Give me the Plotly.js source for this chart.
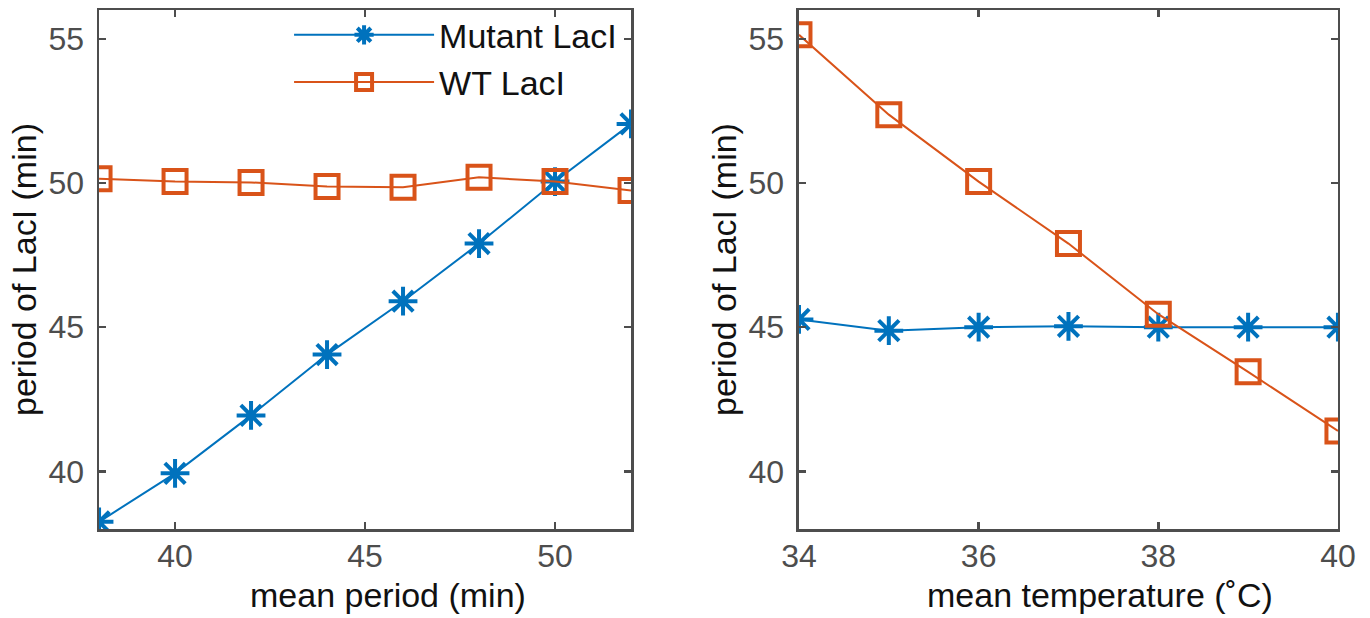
<!DOCTYPE html>
<html><head><meta charset="utf-8">
<script src="https://cdn.plot.ly/plotly-3.0.1.min.js"></script>
<style>html,body{margin:0;padding:0;background:#fff}</style>
</head><body>
<div id="chart" style="width:1370px;height:618px"></div>
<script>
const periodX = [38, 40, 42, 44, 46, 48, 50, 52];
const mutantByPeriod = [38.25, 39.93, 41.94, 44.05, 45.9, 47.9, 50.05, 52.05];
const wtByPeriod = [50.15, 50.05, 50.02, 49.88, 49.85, 50.2, 50.05, 49.74];
const tempX = [34, 35, 36, 37, 38, 39, 40];
const mutantByTemp = [45.27, 44.88, 45.0, 45.03, 45.0, 45.0, 45.0];
const wtByTemp = [55.14, 52.37, 50.05, 47.9, 45.45, 43.45, 41.4];
const seriesNames = ['Mutant LacI', 'WT LacI'];
const xTitles = ['mean period (min)', 'mean temperature (˚C)'];
const yTitle = 'period of LacI (min)';

const blue = '#0072BD', orange = '#D95319';
const mutStyle = {mode:'lines+markers', line:{color:blue, width:2},
  marker:{symbol:'asterisk-open', size:24, color:blue, line:{color:blue, width:4}}};
const wtStyle = {mode:'lines+markers', line:{color:orange, width:2},
  marker:{symbol:'square-open', size:23, color:orange, line:{color:orange, width:4}}};

const traces = [
  Object.assign({x: periodX, y: mutantByPeriod, name: seriesNames[0], xaxis:'x', yaxis:'y'}, mutStyle),
  Object.assign({x: periodX, y: wtByPeriod, name: seriesNames[1], xaxis:'x', yaxis:'y'}, wtStyle),
  Object.assign({x: tempX, y: mutantByTemp, name: seriesNames[0], xaxis:'x2', yaxis:'y2', showlegend:false}, mutStyle),
  Object.assign({x: tempX, y: wtByTemp, name: seriesNames[1], xaxis:'x2', yaxis:'y2', showlegend:false}, wtStyle)
];

const fam = 'Liberation Sans, Arial, sans-serif';
const axBase = {showline:true, linecolor:'#4d4d4d', linewidth:2.5, mirror:'ticks',
  ticks:'inside', ticklen:7, tickwidth:2.5, tickcolor:'#4d4d4d', showgrid:false, zeroline:false,
  tickfont:{family:fam, size:32, color:'#4d4d4d'}};
const titleFont = {family:fam, size:34, color:'#111'};

const layout = {
  width:1370, height:618, margin:{l:0,r:0,t:0,b:0},
  paper_bgcolor:'#fff', plot_bgcolor:'#fff',
  xaxis: Object.assign({}, axBase, {domain:[0.0723, 0.4606], range:[38,52], tickvals:[40,45,50],
    ticklabelstandoff:-3, anchor:'y'}),
  yaxis: Object.assign({}, axBase, {domain:[0.144, 0.9838], range:[38,56], tickvals:[40,45,50,55],
    ticklabelstandoff:6, title:{text:yTitle, font:titleFont, standoff:2}, anchor:'x'}),
  xaxis2: Object.assign({}, axBase, {domain:[0.5832, 0.9766], range:[34,40], tickvals:[34,36,38,40],
    ticklabelstandoff:-3, anchor:'y2'}),
  yaxis2: Object.assign({}, axBase, {domain:[0.144, 0.9838], range:[38,56], tickvals:[40,45,50,55],
    ticklabelstandoff:6, title:{text:yTitle, font:titleFont, standoff:2}, anchor:'x2'}),
  annotations:[
    {text:xTitles[0], xref:'x domain', yref:'paper', x:0.543, y:0.038, xanchor:'center', yanchor:'middle',
     showarrow:false, font:titleFont},
    {text:xTitles[1], xref:'x2 domain', yref:'paper', x:0.558, y:0.038, xanchor:'center', yanchor:'middle',
     showarrow:false, font:titleFont}
  ],
  showlegend:true,
  legend:{x:0.211, y:0.99, xanchor:'left', yanchor:'top', bgcolor:'rgba(255,255,255,0)',
    font:{family:fam, size:34, color:'#111'}, tracegroupgap:0, itemwidth:140}
};

Plotly.newPlot('chart', traces, layout, {displayModeBar:false, staticPlot:true});
</script>
</body></html>
